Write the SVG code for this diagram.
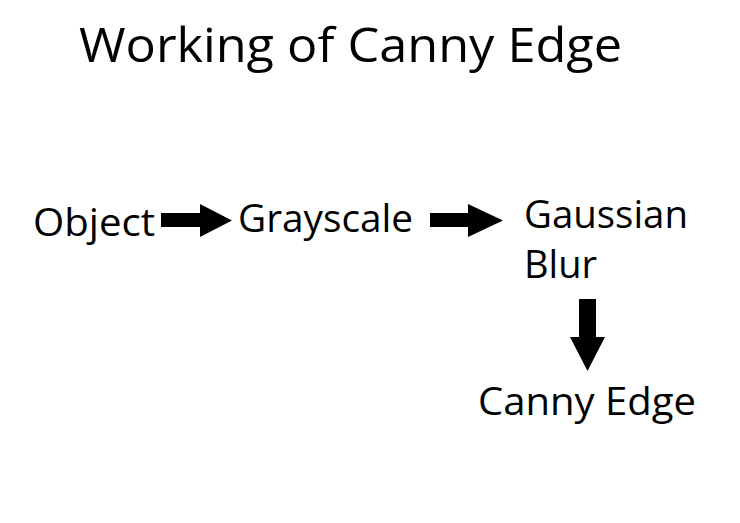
<svg xmlns="http://www.w3.org/2000/svg" width="740" height="523" viewBox="0 0 740 523">
<style>
text{font-family:"Open Sans","Noto Sans","Liberation Sans",sans-serif;fill:#000}
.t{font-size:48px}
.n{font-size:38px}
.a{fill:#000}
</style>
<rect width="740" height="523" fill="#fff"/>
<text class="t" x="79" y="62" textLength="543" lengthAdjust="spacingAndGlyphs">Working of Canny Edge</text>
<g id="object"><text class="n" x="33" y="236" textLength="122" lengthAdjust="spacingAndGlyphs">Object</text></g>
<g id="grayscale"><text class="n" x="238" y="232" textLength="175" lengthAdjust="spacingAndGlyphs">Grayscale</text></g>
<g id="gaussian"><text class="n" x="524" y="228" textLength="164" lengthAdjust="spacingAndGlyphs">Gaussian</text><text class="n" x="524" y="278">Blur</text></g>
<g id="canny"><text class="n" x="478" y="415" textLength="218" lengthAdjust="spacingAndGlyphs">Canny Edge</text></g>
<g id="connectors">
<polygon class="a" points="161,213 200,213 200,204 232,220.5 200,237 200,227 161,227"/>
<polygon class="a" points="430,213 468,213 468,204 503,220.5 468,237 468,227 430,227"/>
<polygon class="a" points="579,299 596,299 596,337 605,337 587.5,371 570,337 579,337"/>
</g>
</svg>
